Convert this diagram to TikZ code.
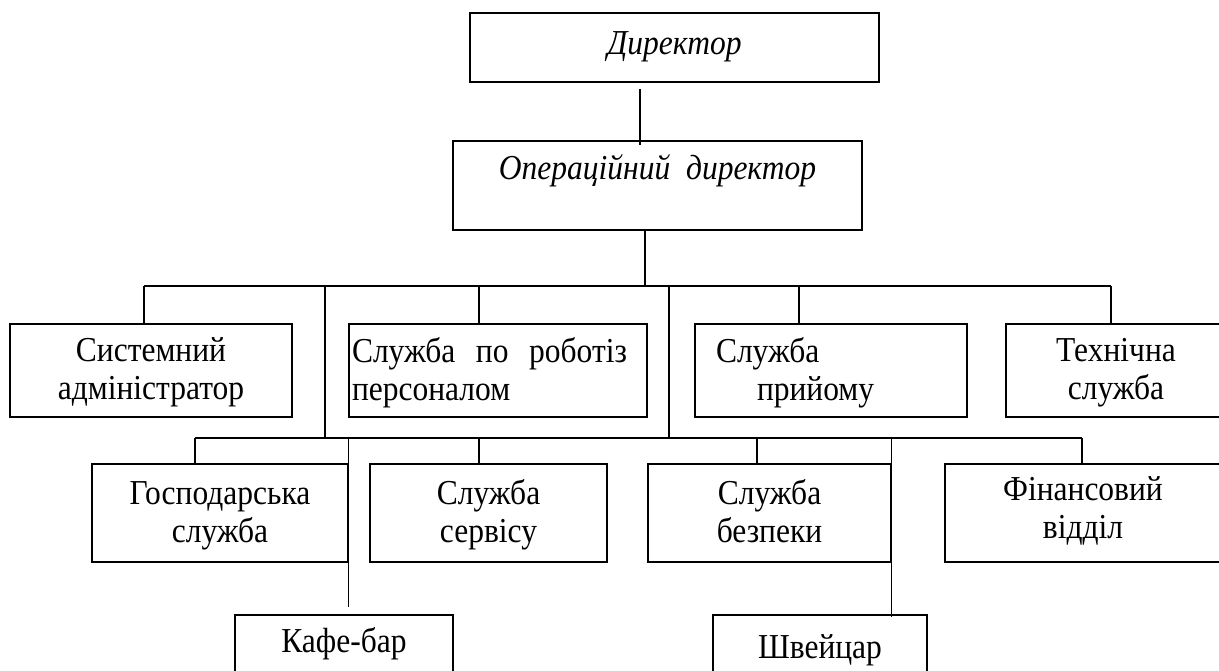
\documentclass[tikz,border=0pt]{standalone}
\usepackage{fontspec}
\setmainfont{Liberation Serif}[FakeStretch=0.9]

\begin{document}
\begin{tikzpicture}[x=1pt,y=-1pt,line width=1.2pt,
                    main node/.style={draw,line width=1.6pt,inner sep=0pt,align=center,
                                      font=\fontsize{35}{38}\selectfont},
                    head node/.style={main node,font=\fontsize{35}{38}\selectfont\itshape},
                    row1/.style={main node,minimum height=93pt,text height=63pt,text depth=6pt},
                    row2/.style={main node,minimum height=98pt,text height=63pt,text depth=5pt},
                    bus/.style={line width=1.6pt}]
      \useasboundingbox (0,0) rectangle (1219,671);

      % management
      \node[head node,minimum width=409pt,minimum height=69pt,text height=25pt,text depth=10pt]
           (dir) at (674.5,47.5) {Директор};
      \node[head node,minimum width=409pt,minimum height=89pt,text height=22pt,text depth=33pt]
           (op) at (657.5,185.5) {Операційний\ \ директор};

      % first row
      \node[row1,minimum width=282pt] (sys) at (151,370.5) {Системний\\адміністратор};
      \node[row1,minimum width=298pt,text width=292pt,align=left,text height=25pt,text depth=42pt]
           (kadr) at (498,370.5) {\hbox to 275pt{Служба\hfill по\hfill роботіз}\\персоналом};
      \node[row1,minimum width=272pt,text width=230pt,align=left,text height=25pt,text depth=42pt]
           (pryi) at (831,370.5) {Служба\\\hspace*{41pt}прийому};
      \node[row1,minimum width=220pt] (tech) at (1116,370.5) {Технічна\\служба};

      % second row
      \node[row2,minimum width=256pt] (gosp) at (220,513) {Господарська\\служба};
      \node[row2,minimum width=237pt] (serv) at (488.5,513) {Служба\\сервісу};
      \node[row2,minimum width=243pt] (bezp) at (769.5,513) {Служба\\безпеки};
      \node[row2,minimum width=276pt,text depth=13pt] (fin) at (1083,513) {Фінансовий\\відділ};

      % third row
      \node[main node,minimum width=218pt,minimum height=65pt,text height=25pt,text depth=16pt]
           (kafe) at (344,647.5) {Кафе-бар};
      \node[main node,minimum width=214pt,minimum height=71pt,text height=25pt,text depth=10pt]
           (shv) at (820,650.5) {Швейцар};

      \coordinate (b1) at (645,286);
      \coordinate (b2) at (669,438);
      \coordinate (b2l) at (325,438);

      \draw ([xshift=-34.5pt,yshift=-6pt]dir.south) -- ([xshift=-17.5pt,yshift=-5pt]op.north);
      \draw ([xshift=-12.5pt]op.south) -- (b1);
      \draw[bus] ([xshift=-7pt]sys.north |- b1) -- ([xshift=-5pt]tech.north |- b1);
      \foreach \n/\s in {sys/-7,kadr/-19,pryi/-32,tech/-5}
        \draw ([xshift=\s pt]\n.north) -- ([xshift=\s pt]\n.north |- b1);
      \draw (b1 -| b2l) -- (b2l);
      \draw (b1 -| b2) -- (b2);

      \draw[bus] ([xshift=-25pt]gosp.north |- b2) -- ([xshift=-1pt]fin.north |- b2);
      \foreach \n/\s in {gosp/-25,serv/-9.5,bezp/-12.5,fin/-1}
        \draw ([xshift=\s pt]\n.north) -- ([xshift=\s pt]\n.north |- b2);
      \draw (gosp.north east |- b2) -- ([yshift=7pt]kafe.north -| gosp.east);
      \draw (bezp.north east |- b2) -- ([yshift=-3pt]shv.north -| bezp.east);
\end{tikzpicture}
\end{document}
